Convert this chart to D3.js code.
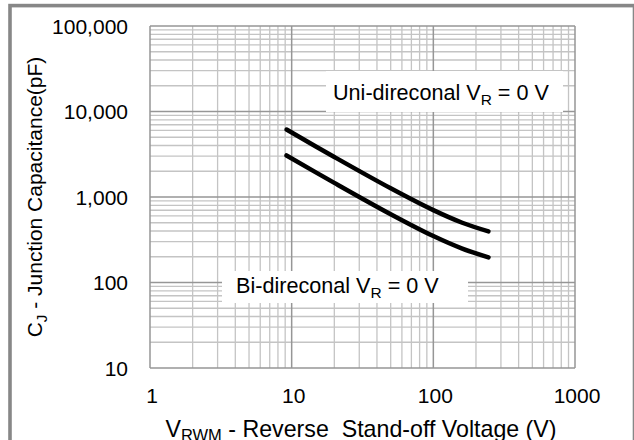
<!DOCTYPE html>
<html><head><meta charset="utf-8">
<script src="https://cdn.jsdelivr.net/npm/d3@7"></script>
<style>
html,body{margin:0;padding:0;background:#fff;}
svg{display:block;font-family:"Liberation Sans",Arial,sans-serif;}
</style></head>
<body>
<svg id="c" width="634" height="440"></svg>
<script>
// Data
const voltages = [9.2, 20, 50, 100, 160, 245];
const uniCap   = [6150, 2940, 1265, 702, 500, 396];
const biCap    = [3060, 1463, 629, 349, 249, 197];
const xTicks = [1, 10, 100, 1000];
const xTickLabels = ["1", "10", "100", "1000"];
const yTicks = [10, 100, 1000, 10000, 100000];
const yTickLabels = ["10", "100", "1,000", "10,000", "100,000"];

const svg = d3.select("#c");
const x = d3.scaleLog().domain([1, 1000]).range([150, 575]);
const y = d3.scaleLog().domain([10, 100000]).range([368, 26]);

// outer frame
svg.append("rect").attr("x", 10).attr("y", 5.6).attr("width", 624.5).attr("height", 600)
  .attr("fill", "none").attr("stroke", "#878787").attr("stroke-width", 3.6);

const g = svg.append("g");
const minorX = [], minorY = [];
for (let d = 1; d < 1000; d *= 10) for (let k = 2; k <= 9; k++) minorX.push(d * k);
for (let d = 10; d < 100000; d *= 10) for (let k = 2; k <= 9; k++) minorY.push(d * k);

g.selectAll(".mx").data(minorX).join("line")
  .attr("x1", d => x(d)).attr("x2", d => x(d)).attr("y1", y(100000)).attr("y2", y(10))
  .attr("stroke", "#c4c4c4").attr("stroke-width", 1.3);
g.selectAll(".my").data(minorY).join("line")
  .attr("y1", d => y(d)).attr("y2", d => y(d)).attr("x1", x(1)).attr("x2", x(1000))
  .attr("stroke", "#c4c4c4").attr("stroke-width", 1.3);
g.selectAll(".Mx").data(xTicks).join("line")
  .attr("x1", d => x(d)).attr("x2", d => x(d)).attr("y1", y(100000)).attr("y2", y(10))
  .attr("stroke", "#969696").attr("stroke-width", 1.5);
g.selectAll(".My").data(yTicks).join("line")
  .attr("y1", d => y(d)).attr("y2", d => y(d)).attr("x1", x(1)).attr("x2", x(1000))
  .attr("stroke", "#969696").attr("stroke-width", 1.5);

// tick labels
svg.selectAll(".yl").data(yTicks).join("text")
  .attr("x", 128).attr("y", d => y(d) + 7.5)
  .attr("text-anchor", "end").attr("font-size", 21).attr("fill", "#000")
  .text((d, i) => yTickLabels[i]);
svg.selectAll(".xl").data(xTicks).join("text")
  .attr("x", d => x(d) + 2).attr("y", 403)
  .attr("text-anchor", "middle").attr("font-size", 21).attr("fill", "#000")
  .text((d, i) => xTickLabels[i]);

// curves
const line = d3.line().x(d => x(d[0])).y(d => y(d[1])).curve(d3.curveCatmullRom.alpha(0.5));
[uniCap, biCap].forEach(s => {
  svg.append("path").datum(voltages.map((v, i) => [v, s[i]]))
    .attr("d", line).attr("fill", "none").attr("stroke", "#000")
    .attr("stroke-width", 4.5).attr("stroke-linecap", "round");
});

// legend boxes
function label(bx, by, bw, bh, tx, ty, main) {
  svg.append("rect").attr("x", bx).attr("y", by).attr("width", bw).attr("height", bh).attr("fill", "#fff");
  const t = svg.append("text").attr("x", tx).attr("y", ty).attr("font-size", 21.6).attr("fill", "#000");
  t.append("tspan").text(main + " V");
  t.append("tspan").attr("font-size", 15.5).attr("dy", 5).text("R");
  t.append("tspan").attr("dy", -5).text(" = 0 V");
}
label(326, 71, 237, 41, 333, 100, "Uni-direconal");
label(222, 271, 246, 32, 236, 293, "Bi-direconal");

// axis titles
const xt = svg.append("text").attr("x", 361).attr("y", 436.5).attr("text-anchor", "middle")
  .attr("font-size", 23.2).attr("fill", "#000").attr("style", "white-space:pre");
xt.append("tspan").text("V");
xt.append("tspan").attr("font-size", 16.5).attr("dy", 4).text("RWM");
xt.append("tspan").attr("dy", -4).text(" - Reverse  Stand-off Voltage (V)");

const yt = svg.append("text").attr("transform", "translate(42,197) rotate(-90)")
  .attr("text-anchor", "middle").attr("font-size", 21).attr("fill", "#000");
yt.append("tspan").text("C");
yt.append("tspan").attr("font-size", 15).attr("dy", 5).text("J");
yt.append("tspan").attr("dy", -5).text(" - Junction Capacitance(pF)");
</script>
</body></html>
